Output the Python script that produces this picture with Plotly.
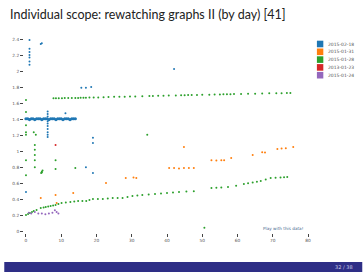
import plotly.graph_objects as go

# ---------------- data ----------------
series_names = ["2015-02-18", "2015-01-31", "2015-01-28", "2013-01-23", "2015-01-24"]
series_colors = ["#1f77b4", "#ff7f0e", "#2ca02c", "#d62728", "#9467bd"]

# blue: dense horizontal run first, then scattered points
blue_run_x = [0.0, 0.5, 1.0, 1.5, 2.0, 2.5, 3.0, 3.5, 4.0, 4.5, 5.0, 5.5, 6.0, 6.5, 7.0,
              7.5, 8.0, 8.5, 9.0, 9.5, 10.0, 10.5, 11.0, 11.5, 12.0, 12.5, 13.0, 13.5, 14.0]
blue_run_y = [1.41, 1.41, 1.40, 1.41, 1.41, 1.40, 1.41, 1.41, 1.41, 1.40, 1.41, 1.41, 1.41, 1.40, 1.41,
              1.41, 1.41, 1.40, 1.41, 1.41, 1.41, 1.40, 1.41, 1.41, 1.41, 1.40, 1.41, 1.41, 1.41]
blue_x = [6.15, 6.15, 6.15, 6.15, 6.15, 6.15, 6.15, 6.15, 6.15, 6.15,
          1.0, 1.0, 1.0, 1.0, 1.0, 1.0, 1.0,
          4.2, 4.5, 15.7, 17.0, 18.5, 42.0, 11.2, 19.0, 19.0, 17.0, 19.0, 0.0]
blue_y = [1.50, 1.47, 1.44, 1.38, 1.35, 1.32, 1.28, 1.24, 1.21, 1.18,
          2.40, 2.29, 2.25, 2.21, 2.18, 2.13, 2.09,
          2.35, 2.36, 1.80, 1.80, 1.81, 2.035, 1.48, 1.17, 1.105, 0.80, 0.73, 0.49]

orange_x = [4.2, 8.4, 8.7, 13.4, 22.7, 28.3, 30.5, 31.3, 40.6, 42.0, 43.4, 44.8, 46.2, 47.6,
            52.6, 54.0, 55.4, 56.2, 58.2, 64.3, 67.0, 67.8, 71.3, 72.5, 73.7, 75.8, 44.8]
orange_y = [0.415, 0.452, 0.352, 0.477, 0.603, 0.666, 0.672, 0.666, 0.79, 0.79, 0.785, 0.79, 0.79, 0.79,
            0.89, 0.885, 0.89, 0.89, 0.917, 0.955, 0.99, 0.985, 1.03, 1.035, 1.04, 1.055, 1.055]

green_x = [7.8, 8.5, 9.3, 10.2, 11.0, 12.0, 13.0, 14.0, 14.8, 15.5, 16.3, 17.0, 18.0, 19.2,
           20.5, 22.0, 23.4, 25.0, 26.5, 28.0, 29.5, 31.0, 33.0, 35.0, 36.0, 37.5, 39.0,
           40.5, 42.5, 44.0, 45.0, 46.0, 47.0, 48.5, 50.0, 52.0, 53.5, 55.0, 56.0, 57.0,
           58.0, 59.0, 61.0, 63.0, 65.0, 67.0, 69.0, 71.0, 72.5, 74.0, 75.0,
           0.0, 0.6, 1.1, 1.7, 2.2, 3.0, 4.2, 5.0, 5.6, 6.3, 7.0, 7.7, 8.4, 9.2, 10.1,
           11.3, 12.6, 13.7, 14.8, 16.0, 17.1, 18.0, 19.0, 20.4, 21.8, 23.2, 24.6, 26.0,
           27.4, 28.8, 30.2, 31.6, 33.0, 34.8, 36.6, 38.3, 40.0, 41.7, 43.4, 45.5, 47.6,
           52.6, 54.0, 55.4, 57.3, 59.6, 61.8, 63.0, 64.3, 65.5, 66.6, 68.0, 69.4, 70.8,
           72.2, 73.2, 74.1,
           0.0, 0.0, 0.0, 0.0, 0.0, 2.2, 2.8, 2.5, 2.5, 2.5, 2.5, 2.5, 0.0, 0.0,
           4.3, 4.5, 4.7, 4.5, 8.4, 8.4, 14.0, 34.4, 50.6]
green_y = [1.667, 1.668, 1.668, 1.669, 1.670, 1.670, 1.671, 1.672, 1.672, 1.673, 1.674, 1.674, 1.676, 1.677,
           1.678, 1.680, 1.682, 1.685, 1.686, 1.688, 1.689, 1.690, 1.693, 1.695, 1.696, 1.698, 1.700,
           1.701, 1.703, 1.705, 1.706, 1.707, 1.708, 1.709, 1.711, 1.713, 1.715, 1.716, 1.717, 1.718,
           1.719, 1.720, 1.722, 1.724, 1.725, 1.727, 1.729, 1.730, 1.732, 1.733, 1.734,
           0.200, 0.213, 0.226, 0.238, 0.250, 0.265, 0.289, 0.295, 0.300, 0.307, 0.314, 0.320, 0.327, 0.340, 0.352,
           0.358, 0.364, 0.370, 0.377, 0.377, 0.377, 0.390, 0.402, 0.402, 0.402, 0.409, 0.415, 0.415,
           0.415, 0.427, 0.440, 0.446, 0.452, 0.458, 0.465, 0.471, 0.477, 0.484, 0.490, 0.495, 0.500,
           0.540, 0.543, 0.546, 0.553, 0.570, 0.590, 0.600, 0.610, 0.620, 0.628, 0.647, 0.666, 0.669,
           0.672, 0.675, 0.678,
           1.646, 1.495, 1.33, 1.24, 1.21, 1.24, 1.21, 1.08, 1.02, 0.955, 0.89, 0.80, 0.89, 0.70,
           0.73, 0.745, 0.76, 0.735, 0.89, 0.78, 0.79, 1.21, 0.04]

red_x = [8.4]
red_y = [1.08]

purple_x = [0.8, 1.5, 2.5, 3.5, 4.5, 5.5, 6.5, 7.5, 8.2, 8.7, 9.2]
purple_y = [0.23, 0.22, 0.24, 0.22, 0.22, 0.21, 0.22, 0.23, 0.26, 0.24, 0.22]

x_ticks = [0, 10, 20, 30, 40, 50, 60, 70, 80]
y_ticks = [0, 0.2, 0.4, 0.6, 0.8, 1, 1.2, 1.4, 1.6, 1.8, 2, 2.2, 2.4]
y_tick_text = ["0", "0.2", "0.4", "0.6", "0.8", "1", "1.2", "1.4", "1.6", "1.8", "2", "2.2", "2.4"]

title_text = "Individual scope: rewatching graphs II (by day) [41]"
page_text = "32 / 38"

# ---------------- figure ----------------
W, H = 363, 272
L, R, T, B = 20, 310, 38, 233


def px_x(p):
    return (p - L) / (R - L)


def px_y(p):
    return (B - p) / (B - T)


fig = go.Figure()
# thick blue run
fig.add_trace(go.Scatter(x=blue_run_x, y=blue_run_y, mode="markers", name=series_names[0],
                         marker=dict(size=3.2, color=series_colors[0], line=dict(width=0)),
                         cliponaxis=False, showlegend=False))
all_data = [(blue_x, blue_y), (orange_x, orange_y), (green_x, green_y),
            (red_x, red_y), (purple_x, purple_y)]
for (xs, ys), name, col in zip(all_data, series_names, series_colors):
    fig.add_trace(go.Scatter(x=xs, y=ys, mode="markers", name=name,
                             marker=dict(size=2.0, color=col, line=dict(width=0)),
                             cliponaxis=False, showlegend=False))

shapes = []
annotations = []
# manual legend
for i, (name, col) in enumerate(zip(series_names, series_colors)):
    cy = 44 + 7.8 * i
    shapes.append(dict(type="rect", xref="paper", yref="paper",
                       x0=px_x(317), x1=px_x(323.5), y0=px_y(cy + 3.3), y1=px_y(cy - 3.3),
                       fillcolor=col, line=dict(width=0)))
    annotations.append(dict(xref="paper", yref="paper", x=px_x(326), y=px_y(cy),
                            xanchor="left", yanchor="middle", text=name, showarrow=False,
                            font=dict(size=4.5, color="#555", family="DejaVu Sans")))

# footer bar
shapes.append(dict(type="rect", xref="paper", yref="paper",
                   x0=px_x(0), x1=px_x(W), y0=px_y(H), y1=px_y(262),
                   fillcolor="#2e2e86", line=dict(width=0), layer="below"))
annotations.append(dict(xref="paper", yref="paper", x=px_x(356), y=px_y(267),
                        xanchor="right", yanchor="middle", text=page_text, showarrow=False,
                        font=dict(size=5, color="#c8c8e6", family="DejaVu Sans")))
# link text
annotations.append(dict(xref="paper", yref="paper", x=px_x(306), y=px_y(228),
                        xanchor="right", yanchor="middle", text="Play with this data!",
                        showarrow=False,
                        font=dict(size=4.2, color="#4a6a90", family="DejaVu Sans")))

fig.update_layout(
    width=W, height=H,
    margin=dict(l=L, r=W - R, t=T, b=H - B, pad=0),
    paper_bgcolor="white", plot_bgcolor="white",
    title=dict(text=title_text, xref="container", yref="container",
               x=10 / W, y=1 - 15 / H, xanchor="left", yanchor="middle",
               font=dict(size=12.5, color="#222", family="Lato")),
    xaxis=dict(range=[(L - 22) / 3.575, (R - 22) / 3.575], tickvals=x_ticks,
               showgrid=False, zeroline=False, showline=False,
               ticks="outside", ticklen=3, tickwidth=1, tickcolor="#444",
               tickfont=dict(size=4.3, color="#555", family="DejaVu Sans")),
    yaxis=dict(range=[(231 - B) / 79.6, (231 - T) / 79.6], tickvals=y_ticks,
               ticktext=y_tick_text,
               showgrid=False, zeroline=False, showline=False,
               ticks="outside", ticklen=3, tickwidth=1, tickcolor="#444",
               tickfont=dict(size=4.3, color="#555", family="DejaVu Sans")),
    shapes=shapes, annotations=annotations, showlegend=False,
)

fig.write_html("out.html")
